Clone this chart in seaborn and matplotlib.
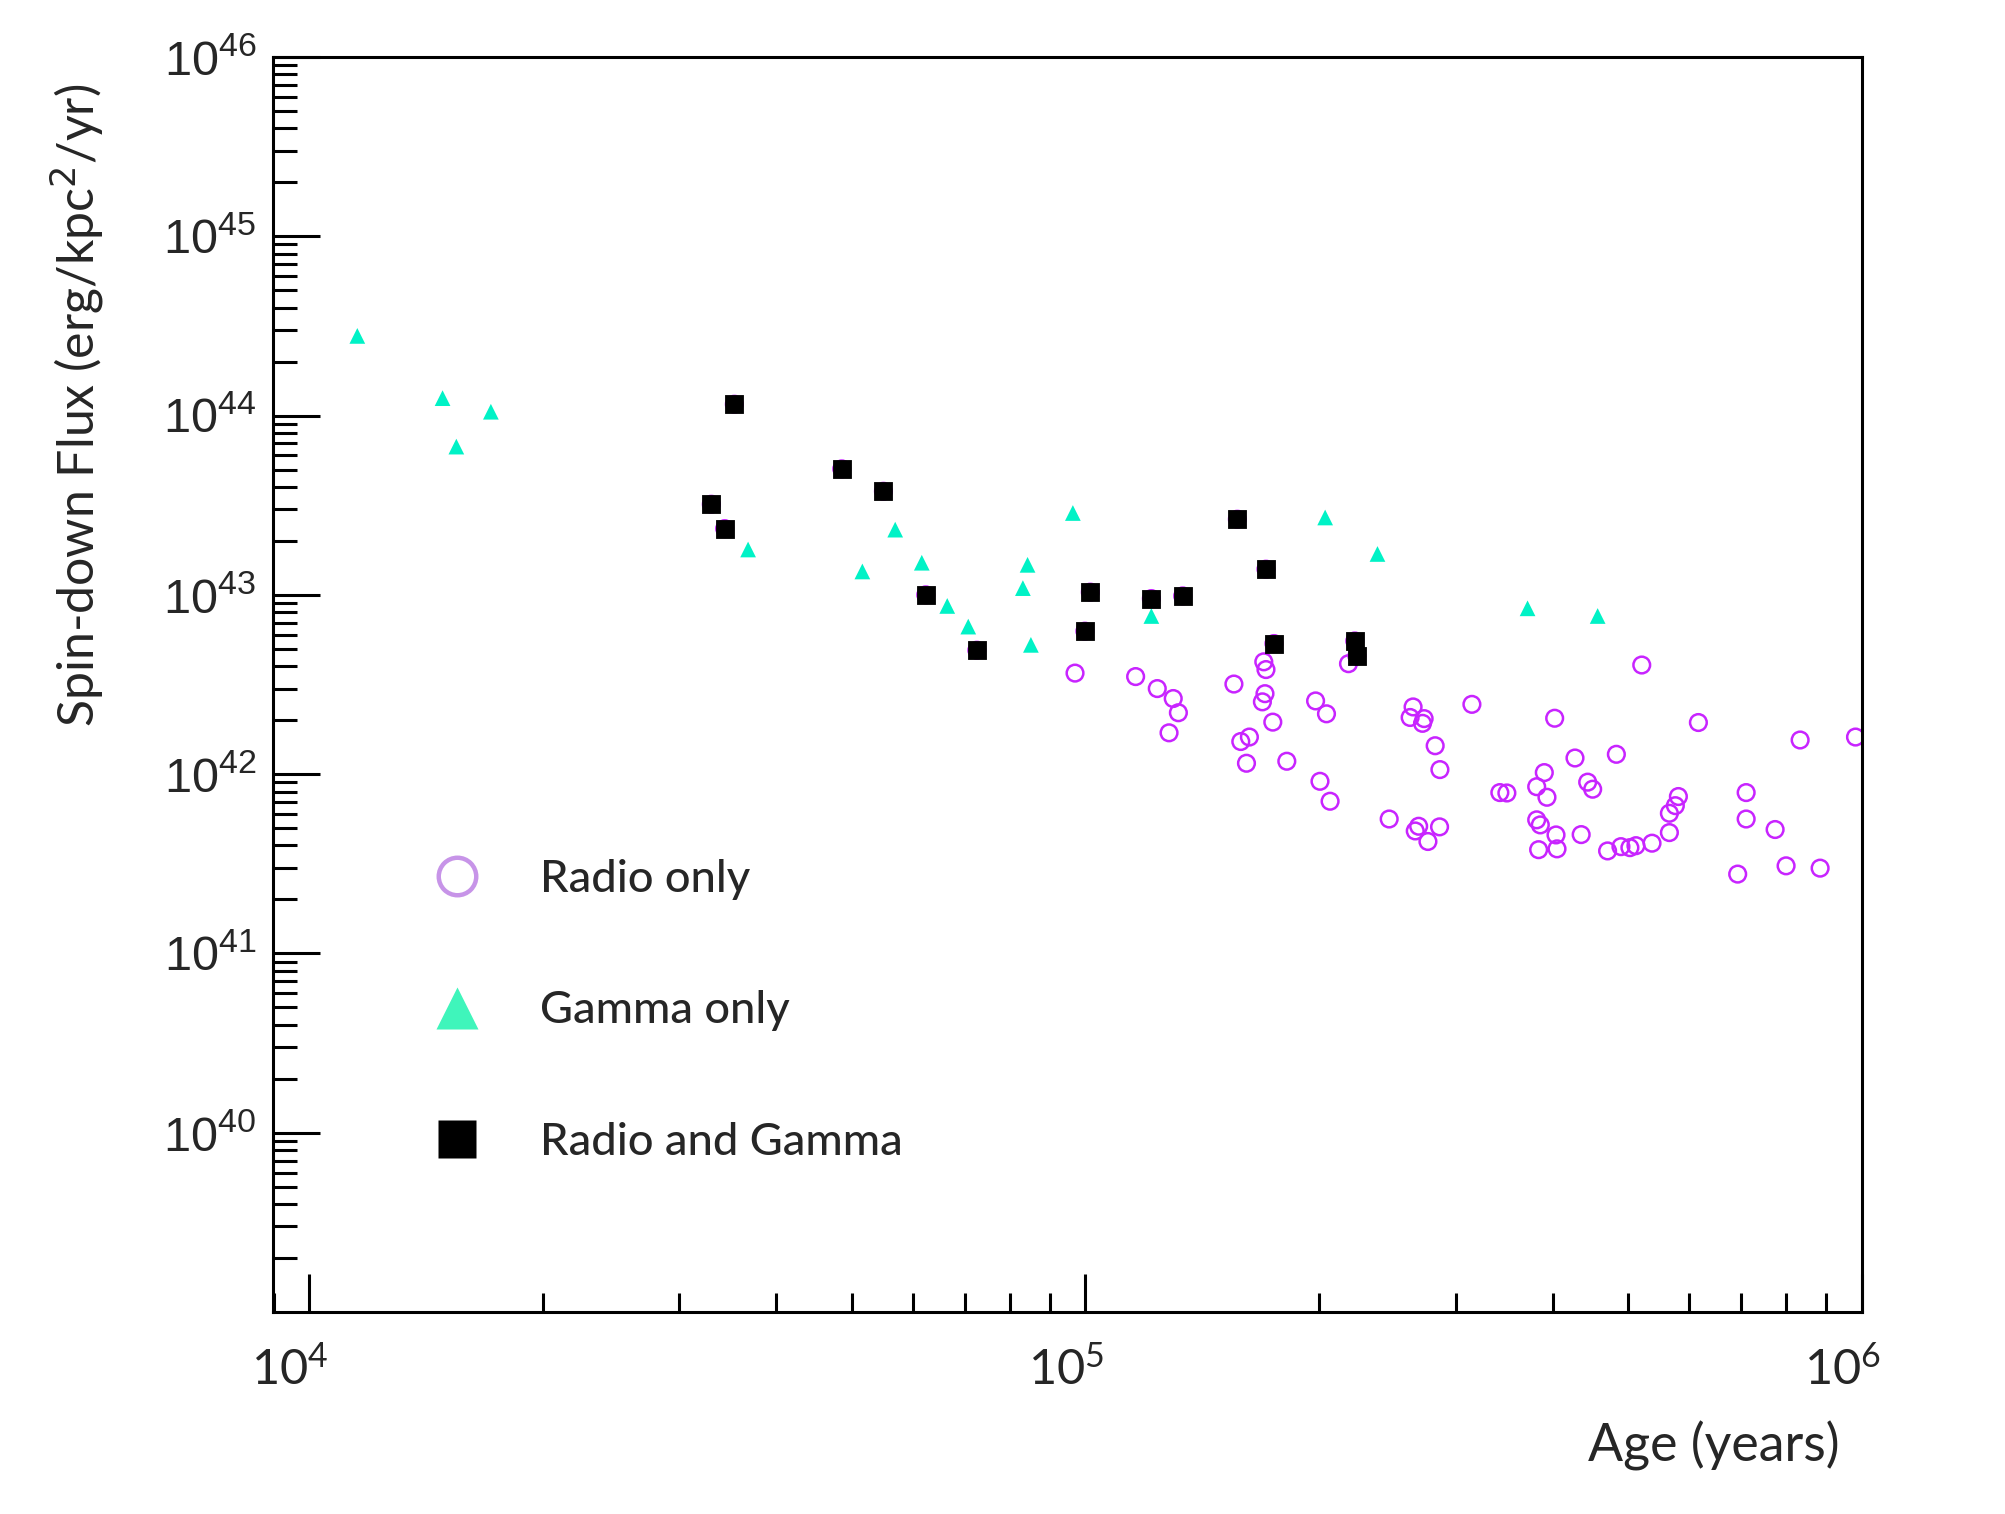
import numpy as np
import pandas as pd
import matplotlib
matplotlib.use("Agg")
import matplotlib.pyplot as plt
from matplotlib import ticker as mticker
from matplotlib import font_manager
from matplotlib.lines import Line2D
from matplotlib.transforms import ScaledTranslation
import seaborn as sns

# pulsars seen only in radio: characteristic age (yr), spin-down flux (erg/kpc^2/yr)
radio_age = [97000, 116100, 123800, 129800, 131800, 128200, 155400, 169800, 170900,
             170400, 169100, 174400, 158600, 162700, 161300, 181800, 198000, 204500,
             200600, 206700, 218300, 264400, 262100, 273200, 271900, 282300, 286300,
             314800, 246300, 268800, 266100, 276300, 286000, 342000, 349200, 390200,
             381500, 393300, 381500, 385600, 383700, 521000, 402400, 616300, 833400,
             982200, 427400, 483200, 443800, 450400, 580800, 575600, 565500, 565500,
             710100, 710100, 773800, 404000, 435300, 405200, 470800, 489800, 503000,
             512100, 537100, 692500, 799400, 884300]
radio_flux = [3.66e42, 3.50e42, 3.00e42, 2.64e42, 2.20e42, 1.70e42, 3.18e42, 4.23e42, 3.83e42,
              2.81e42, 2.53e42, 1.95e42, 1.52e42, 1.61e42, 1.15e42, 1.18e42, 2.56e42, 2.17e42,
              9.12e41, 7.06e41, 4.13e42, 2.37e42, 2.07e42, 2.04e42, 1.92e42, 1.44e42, 1.06e42,
              2.45e42, 5.62e41, 5.12e41, 4.82e41, 4.21e41, 5.08e41, 7.89e41, 7.85e41, 1.02e42,
              8.51e41, 7.43e41, 5.56e41, 5.21e41, 3.79e41, 4.06e42, 2.05e42, 1.94e42, 1.55e42,
              1.61e42, 1.23e42, 1.29e42, 9.02e41, 8.24e41, 7.50e41, 6.67e41, 6.05e41, 4.72e41,
              7.89e41, 5.62e41, 4.91e41, 4.58e41, 4.60e41, 3.83e41, 3.73e41, 3.94e41, 3.89e41,
              3.99e41, 4.12e41, 2.77e41, 3.08e41, 2.99e41]

# pulsars seen only in gamma rays
gamma_age = [11540, 14860, 17150, 15480, 36780, 51620, 56900, 61570, 66400, 70670,
             83100, 84260, 85100, 96380, 121650, 203700, 237900, 371300, 457100]
gamma_flux = [2.78e44, 1.25e44, 1.05e44, 6.71e43, 1.79e43, 1.35e43, 2.31e43, 1.51e43, 8.67e42,
              6.65e42, 1.09e43, 1.47e43, 5.26e42, 2.86e43, 7.62e42, 2.70e43, 1.69e43, 8.41e42,
              7.62e42]

# pulsars seen in both
both_age = [35310, 32980, 34310, 48560, 54950, 62300, 72490, 101500, 99880, 121650,
            133500, 157000, 170900, 175000, 222400, 223800]
both_flux = [1.156e44, 3.20e43, 2.34e43, 5.04e43, 3.78e43, 1.00e43, 4.91e42, 1.035e43,
             6.27e42, 9.53e42, 9.86e42, 2.64e43, 1.39e43, 5.35e42, 5.53e42, 4.56e42]

legend_labels = ['Radio only', 'Gamma only', 'Radio and Gamma']
x_ticks = [1e4, 1e5, 1e6]
y_ticks = [1e40, 1e41, 1e42, 1e43, 1e44, 1e45, 1e46]

RADIO = '#c824ff'
GAMMA = '#00f2c6'


def get_data():
    parts = [
        pd.DataFrame({'age': radio_age, 'flux': radio_flux, 'kind': legend_labels[0]}),
        pd.DataFrame({'age': gamma_age, 'flux': gamma_flux, 'kind': legend_labels[1]}),
        pd.DataFrame({'age': both_age, 'flux': both_flux, 'kind': legend_labels[2]}),
    ]
    return pd.concat(parts, ignore_index=True)


def plot_flux(df):
    names = {f.name for f in font_manager.fontManager.ttflist}
    narrow = 'Liberation Sans Narrow' if 'Liberation Sans Narrow' in names else 'Liberation Sans'

    fig = plt.figure(figsize=(10.03, 7.57), dpi=200)
    ax = fig.add_axes([0.1361, 0.1334, 0.7919, 0.829])

    radio = df[df['kind'] != legend_labels[1]]   # every radio pulsar gets a circle
    gamma = df[df['kind'] == legend_labels[1]]
    both = df[df['kind'] == legend_labels[2]]

    sns.scatterplot(data=radio, x='age', y='flux', marker='o', s=36, color=RADIO,
                    facecolors='none', edgecolor=RADIO, linewidth=0.9, ax=ax, legend=False)
    sns.scatterplot(data=gamma, x='age', y='flux', marker='^', s=32, color=GAMMA,
                    edgecolor='none', linewidth=0, ax=ax, legend=False)
    sns.scatterplot(data=both, x='age', y='flux', marker='s', s=42, color='black',
                    edgecolor='black', linewidth=0.3, ax=ax, legend=False)

    ax.set_xscale('log')
    ax.set_yscale('log')
    ax.set_xlim(8987, 1e6)
    ax.set_ylim(1e39, 1e46)

    ax.xaxis.set_major_locator(mticker.FixedLocator(x_ticks))
    ax.yaxis.set_major_locator(mticker.FixedLocator(y_ticks))
    ax.xaxis.set_minor_locator(mticker.LogLocator(base=10, subs=np.arange(2, 10), numticks=20))
    ax.yaxis.set_minor_locator(mticker.LogLocator(base=10, subs=np.arange(2, 10), numticks=20))
    ax.xaxis.set_minor_formatter(mticker.NullFormatter())
    ax.yaxis.set_minor_formatter(mticker.NullFormatter())

    ax.tick_params(which='both', direction='in', bottom=True, left=True, top=False,
                   right=False, width=1.1, color='black')
    ax.tick_params(axis='x', which='major', length=13.6, pad=12, labelsize=17.5,
                   labelfontfamily='Lato')
    ax.tick_params(axis='x', which='minor', length=6.8)
    ax.tick_params(axis='y', which='major', length=17, pad=6, labelsize=17.5,
                   labelfontfamily=narrow)
    ax.tick_params(axis='y', which='minor', length=8.6)

    # x labels sit a little to the left of their ticks
    shift = ScaledTranslation(-7 / 72, 0, fig.dpi_scale_trans)
    for lab in ax.get_xticklabels():
        lab.set_transform(lab.get_transform() + shift)

    for side in ['left', 'right', 'top', 'bottom']:
        ax.spines[side].set_visible(True)
        ax.spines[side].set_linewidth(1.1)
        ax.spines[side].set_color('black')

    ax.set_ylabel('Spin-down Flux (erg/kpc$^2$/yr)', fontsize=18, family='Lato')
    ax.yaxis.set_label_coords(-0.105, 0.722)
    ax.set_xlabel('Age (years)', fontsize=18.7, family='Lato', ha='right')
    ax.xaxis.set_label_coords(0.986, -0.087)

    handles = [
        Line2D([], [], linestyle='none', marker='o', markersize=13.5, markerfacecolor='none',
               markeredgecolor='#c794e8', markeredgewidth=1.6),
        Line2D([], [], linestyle='none', marker='^', markersize=15, markerfacecolor='#3ff5bb',
               markeredgecolor='none'),
        Line2D([], [], linestyle='none', marker='s', markersize=13.5, markerfacecolor='black',
               markeredgecolor='none'),
    ]
    ax.legend(handles, legend_labels, loc='upper left', bbox_to_anchor=(0.1015, 0.361),
              frameon=False, borderaxespad=0, borderpad=0, handlelength=1.0,
              handletextpad=1.34, labelspacing=2.0,
              prop={'family': 'Lato', 'size': 16.3, 'weight': 'medium'})
    return fig


def main():
    sns.set_style('white')
    plt.rcParams['font.family'] = ['Lato', 'DejaVu Sans']
    df = get_data()
    fig = plot_flux(df)
    fig.savefig('out.png', dpi=200)


if __name__ == '__main__':
    main()
